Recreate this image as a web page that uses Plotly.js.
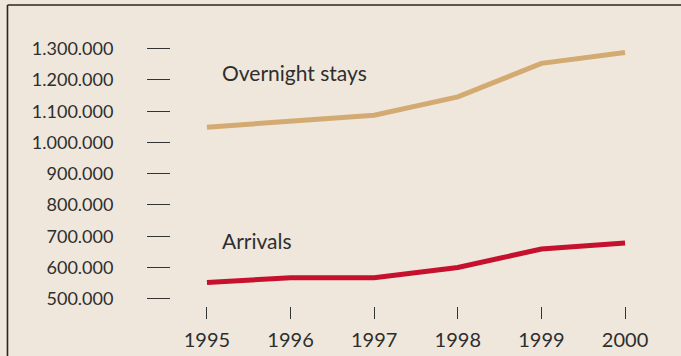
<!DOCTYPE html>
<html>
<head>
<meta charset="utf-8">
<script src="https://cdn.plot.ly/plotly-3.0.1.min.js"></script>
<style>
html,body{margin:0;padding:0;background:#efe7db;}
#chart{width:681px;height:356px;}
</style>
</head>
<body>
<div id="chart"></div>
<script>
const years = [1995, 1996, 1997, 1998, 1999, 2000];
const overnightStays = [1049000, 1066000, 1087000, 1146000, 1253000, 1288000];
const arrivals = [552000, 567000, 567000, 600000, 659000, 678000];
const yTickVals = [500000, 600000, 700000, 800000, 900000, 1000000, 1100000, 1200000, 1300000];
const yTickText = ['500.000','600.000','700.000','800.000','900.000','1.000.000','1.100.000','1.200.000','1.300.000'];
const seriesNames = ['Overnight stays', 'Arrivals'];

const traces = [
  {x: years, y: overnightStays, mode: 'lines', name: seriesNames[0],
   line: {color: '#d3ab72', width: 5}, hoverinfo: 'skip'},
  {x: years, y: arrivals, mode: 'lines', name: seriesNames[1],
   line: {color: '#c5102e', width: 5}, hoverinfo: 'skip'}
];

const fontFam = 'Lato, "Open Sans", sans-serif';
const layout = {
  width: 681, height: 356,
  margin: {l: 171, r: 20, t: 30, b: 50},
  paper_bgcolor: '#efe7db',
  plot_bgcolor: '#efe7db',
  showlegend: false,
  xaxis: {
    range: [1994.57, 2000.43],
    tickvals: years, ticktext: years.map(String),
    ticks: 'outside', ticklen: 12, tickwidth: 1, tickcolor: '#333',
    showgrid: false, zeroline: false, showline: false,
    ticklabelstandoff: 4,
    tickfont: {family: fontFam, size: 20, color: '#2e2e2e'}
  },
  yaxis: {
    range: [476640, 1359840],
    tickvals: yTickVals, ticktext: yTickText,
    ticks: 'outside', ticklen: 23, tickwidth: 1, tickcolor: '#333',
    showgrid: false, zeroline: false, showline: false,
    ticklabelstandoff: 30,
    tickfont: {family: fontFam, size: 18, color: '#2e2e2e'}
  },
  annotations: [
    {x: 1995.155, y: 1224000, xref: 'x', yref: 'y', text: seriesNames[0],
     showarrow: false, xanchor: 'left', yanchor: 'middle',
     font: {family: fontFam, size: 21, color: '#2e2e2e'}},
    {x: 1995.155, y: 685000, xref: 'x', yref: 'y', text: seriesNames[1],
     showarrow: false, xanchor: 'left', yanchor: 'middle',
     font: {family: fontFam, size: 21, color: '#2e2e2e'}}
  ],
  shapes: [
    {type: 'line', xref: 'paper', yref: 'paper', x0: -0.3337, x1: 1.05, y0: 1.0906, y1: 1.0906,
     line: {color: '#2b2523', width: 1.6}},
    {type: 'line', xref: 'paper', yref: 'paper', x0: -0.3337, x1: -0.3337, y0: 1.0906, y1: -0.2,
     line: {color: '#2b2523', width: 1.6}}
  ]
};

Plotly.newPlot('chart', traces, layout, {displayModeBar: false, staticPlot: true});
</script>
</body>
</html>
